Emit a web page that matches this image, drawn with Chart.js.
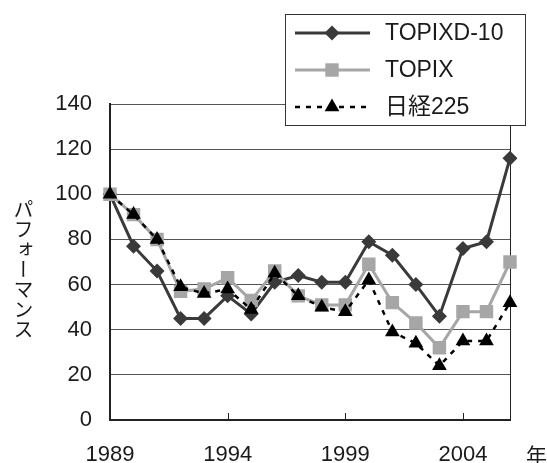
<!DOCTYPE html>
<html lang="ja">
<head>
<meta charset="UTF-8">
<title>パフォーマンス</title>
<script src="https://cdn.jsdelivr.net/npm/chart.js"></script>
<style>
  body { margin: 0; background: #fff; }
  #wrap { position: relative; width: 547px; height: 463px; }
  #ylab {
    position: absolute; left: 12px; top: 199px;
    writing-mode: vertical-rl; text-orientation: upright;
    font: 20px "Noto Sans CJK JP", sans-serif; color: #1a1a1a; line-height: 22px;
  }
  #nen {
    position: absolute; left: 526px; top: 439px;
    font: 21px "Noto Sans CJK JP", sans-serif; color: #1a1a1a;
  }
</style>
</head>
<body>
<div id="wrap">
  <canvas id="myChart" width="547" height="463"></canvas>
  <div id="ylab">パフォーマンス</div>
  <div id="nen">年</div>
</div>
<script>
const years = ['1989','1990','1991','1992','1993','1994','1995','1996','1997','1998','1999','2000','2001','2002','2003','2004','2005','2006'];
const topixd10 = [100, 77, 66, 45, 45, 55, 47, 61, 64, 61, 61, 79, 73, 60, 46, 76, 79, 116];
const topix    = [100, 91, 80, 57, 58, 63, 53, 66, 55, 51, 51, 69, 52, 43, 32, 48, 48, 70];
const nikkei   = [100, 91, 80, 59, 56, 58, 49, 65, 55, 50, 48, 62, 39, 34, 24, 35, 35, 52];

const FONT = '"Liberation Sans", "Noto Sans CJK JP", sans-serif';

// legend box drawn over the top-right of the plot, plus inward x ticks
const extras = {
  id: 'extras',
  afterDraw(chart) {
    const ctx = chart.ctx;
    const xs = chart.scales.x;
    const area = chart.chartArea;
    ctx.save();
    ctx.strokeStyle = '#222';
    ctx.lineWidth = 1;
    years.forEach((y, i) => {
      if (i > 0 && i % 5 === 0) {
        const px = Math.round(xs.getPixelForValue(i)) + 0.5;
        ctx.beginPath();
        ctx.moveTo(px, area.bottom - 7);
        ctx.lineTo(px, area.bottom);
        ctx.stroke();
      }
    });

    // legend
    ctx.fillStyle = '#fff';
    ctx.fillRect(285, 14, 240, 111);
    ctx.strokeStyle = '#333';
    ctx.strokeRect(285.5, 14.5, 240, 111);
    const rows = [33, 70, 107];
    chart.data.datasets.forEach((ds, i) => {
      const cy = rows[i];
      ctx.strokeStyle = ds.borderColor;
      ctx.lineWidth = ds.borderWidth;
      ctx.setLineDash(ds.borderDash || []);
      ctx.beginPath();
      ctx.moveTo(295, cy);
      ctx.lineTo(370, cy);
      ctx.stroke();
      ctx.setLineDash([]);
      ctx.fillStyle = ds.pointBackgroundColor;
      const cx = 332, r = ds.pointRadius;
      ctx.beginPath();
      if (ds.pointStyle === 'rectRot') {
        ctx.moveTo(cx, cy - r); ctx.lineTo(cx + r, cy); ctx.lineTo(cx, cy + r); ctx.lineTo(cx - r, cy);
      } else if (ds.pointStyle === 'rect') {
        const s = r * Math.SQRT1_2;
        ctx.rect(cx - s, cy - s, 2 * s, 2 * s);
      } else {
        ctx.moveTo(cx, cy - r);
        ctx.lineTo(cx + r * 0.866, cy + r * 0.5);
        ctx.lineTo(cx - r * 0.866, cy + r * 0.5);
      }
      ctx.closePath();
      ctx.fill();
      ctx.fillStyle = '#1a1a1a';
      ctx.font = '23px ' + FONT;
      ctx.textBaseline = 'middle';
      ctx.fillText(ds.label, 385, cy + 1);
    });
    ctx.restore();
  }
};

const ctx = document.getElementById('myChart').getContext('2d');
new Chart(ctx, {
  type: 'line',
  data: {
    labels: years,
    datasets: [
      {
        label: 'TOPIXD-10', data: topixd10,
        borderColor: '#3a3a3a', backgroundColor: '#3a3a3a', pointBackgroundColor: '#3a3a3a',
        borderWidth: 3, pointStyle: 'rectRot', pointRadius: 7.5, pointBorderWidth: 0,
        order: 3
      },
      {
        label: 'TOPIX', data: topix,
        borderColor: '#a6a6a6', backgroundColor: '#a6a6a6', pointBackgroundColor: '#a6a6a6',
        borderWidth: 3, pointStyle: 'rect', pointRadius: 9.5, pointBorderWidth: 0,
        order: 2
      },
      {
        label: '日経225', data: nikkei,
        borderColor: '#000', backgroundColor: '#000', pointBackgroundColor: '#000',
        borderWidth: 2.5, borderDash: [5, 6], pointStyle: 'triangle', pointRadius: 8.5, pointBorderWidth: 0,
        order: 1
      }
    ]
  },
  options: {
    responsive: false,
    animation: false,
    layout: { padding: { top: 104, right: 37, left: 0, bottom: 0 } },
    elements: { line: { tension: 0 } },
    plugins: { legend: { display: false }, tooltip: { enabled: false } },
    scales: {
      x: {
        offset: false,
        afterFit(s) { s.height = 43; },
        grid: {
          drawTicks: false,
          color: c => (c.index === years.length - 1 ? '#222' : 'rgba(0,0,0,0)'),
          lineWidth: 1
        },
        border: { color: '#222', width: 2 },
        ticks: {
          autoSkip: false, maxRotation: 0, padding: 22, color: '#1a1a1a',
          font: { family: FONT, size: 22 },
          callback: (v, i) => (i % 5 === 0 ? years[i] : '')
        }
      },
      y: {
        min: 0, max: 140,
        afterFit(s) { s.width = 110; },
        grid: { drawTicks: false, color: '#555', lineWidth: 1 },
        border: { color: '#222', width: 2 },
        ticks: {
          stepSize: 20, padding: 18, color: '#1a1a1a',
          font: { family: FONT, size: 22 }
        }
      }
    }
  },
  plugins: [extras]
});
</script>
</body>
</html>
